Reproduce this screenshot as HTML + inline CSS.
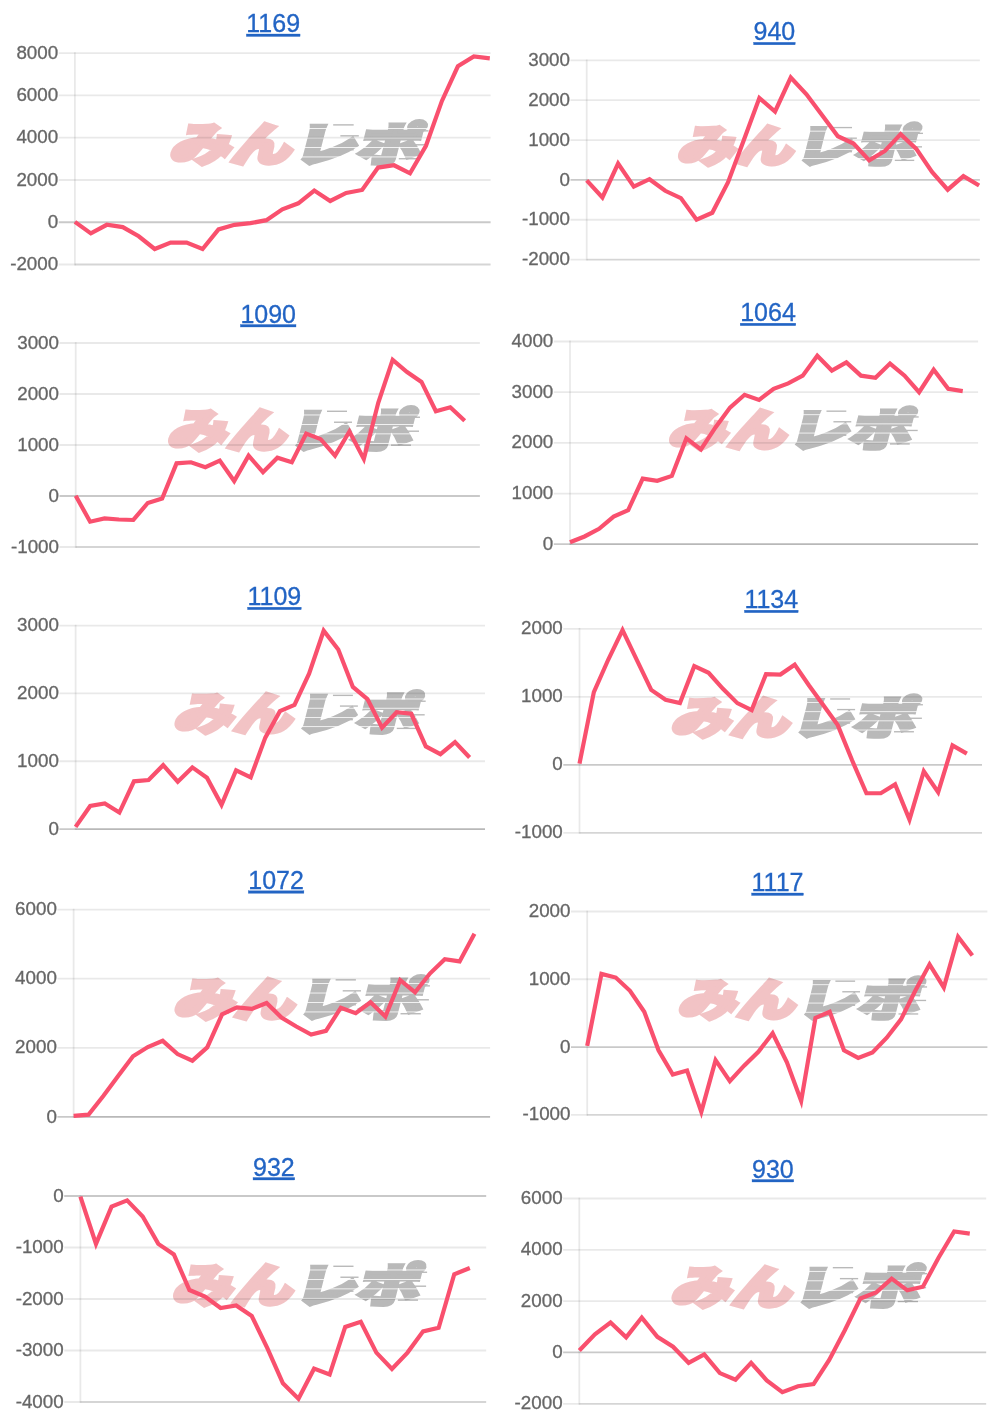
<!DOCTYPE html>
<html lang="ja"><head><meta charset="utf-8"><title>charts</title>
<style>
html,body{margin:0;padding:0;background:#fff;}
body{width:1000px;height:1426px;overflow:hidden;position:relative;}
svg{position:absolute;left:0;top:0;display:block;will-change:transform;}
.lbl{font-family:"Liberation Sans",Arial,sans-serif;font-size:18.8px;fill:#666;stroke:#666;stroke-width:0.3px;}
.ttl{font-family:"Liberation Sans",Arial,sans-serif;font-size:25px;fill:#2264c4;stroke:#2264c4;stroke-width:0.3px;text-decoration:underline;text-underline-offset:0.15em;text-decoration-thickness:2px;}
.wm{font-family:"Liberation Sans","Noto Sans CJK JP",sans-serif;font-weight:900;}
</style></head><body>
<svg width="1000" height="1426" viewBox="0 0 1000 1426">
<g>
<g transform="translate(171.2,121.2) scale(1.0252,0.9956)"><g style="font-family:'Liberation Sans','Noto Sans CJK JP',sans-serif;font-weight:900"> <g transform="skewX(-14)"> <text x="7.5" y="39.8" font-size="46" fill="#f2c3c5" stroke="#f2c3c5" stroke-width="4" stroke-linejoin="miter" textLength="119" lengthAdjust="spacingAndGlyphs">みん</text> <text x="127.7" y="39.8" font-size="46" fill="#b9b9b9" stroke="#b9b9b9" stroke-width="4" stroke-linejoin="miter" textLength="124" lengthAdjust="spacingAndGlyphs">レポ</text> </g> <g fill="#fff"><rect x="124" y="7" width="130" height="0.8"/><rect x="124" y="16.5" width="130" height="0.8"/><rect x="124" y="26" width="130" height="0.8"/><rect x="124" y="35.5" width="130" height="0.8"/></g> <g fill="#b9b9b9"><rect x="158" y="3" width="20" height="1.4"/><rect x="165" y="14" width="18" height="1.4"/><rect x="162" y="28" width="16" height="1.4"/><rect x="233" y="9" width="18" height="1.4"/><rect x="236" y="23" width="14" height="1.4"/><rect x="222" y="37" width="20" height="1.4"/></g></g></g>
<line x1="58.7" y1="53.2" x2="490.6" y2="53.2" stroke="rgba(0,0,0,0.085)" stroke-width="1.8"/>
<line x1="58.7" y1="95.46" x2="490.6" y2="95.46" stroke="rgba(0,0,0,0.085)" stroke-width="1.8"/>
<line x1="58.7" y1="137.72" x2="490.6" y2="137.72" stroke="rgba(0,0,0,0.085)" stroke-width="1.8"/>
<line x1="58.7" y1="179.98" x2="490.6" y2="179.98" stroke="rgba(0,0,0,0.085)" stroke-width="1.8"/>
<line x1="58.7" y1="222.24" x2="490.6" y2="222.24" stroke="rgba(0,0,0,0.21)" stroke-width="1.8"/>
<line x1="58.7" y1="264.5" x2="490.6" y2="264.5" stroke="rgba(0,0,0,0.085)" stroke-width="1.8"/>
<line x1="74.9" y1="264.5" x2="490.6" y2="264.5" stroke="rgba(0,0,0,0.085)" stroke-width="1.8"/>
<line x1="74.9" y1="52.3" x2="74.9" y2="265.4" stroke="rgba(0,0,0,0.085)" stroke-width="1.8"/>
<text class="lbl" x="58.2" y="58.8" text-anchor="end">8000</text>
<text class="lbl" x="58.2" y="101.06" text-anchor="end">6000</text>
<text class="lbl" x="58.2" y="143.32" text-anchor="end">4000</text>
<text class="lbl" x="58.2" y="185.58" text-anchor="end">2000</text>
<text class="lbl" x="58.2" y="227.84" text-anchor="end">0</text>
<text class="lbl" x="58.2" y="270.1" text-anchor="end">-2000</text>
<polyline points="74.9,221.88 90.86,233.39 106.82,224.79 122.77,227.08 138.73,236.28 154.69,248.99 170.65,242.59 186.6,242.59 202.56,248.99 218.52,229.39 234.48,224.79 250.43,223.18 266.39,220.18 282.35,209.37 298.31,203.28 314.27,190.57 330.22,200.97 346.18,192.97 362.14,189.96 378.1,167.55 394.05,165.26 410.01,173.35 425.97,145.74 441.93,100.92 457.88,66.31 473.84,56.5 489.8,58.3" fill="none" stroke="#f9506e" stroke-width="4.2" stroke-linejoin="miter" stroke-linecap="butt"/>
<a href="#"><text class="ttl" x="273.2" y="32" text-anchor="middle">1169</text></a>
</g>
<g>
<g transform="translate(679,124) scale(0.9720,0.9644)"><g style="font-family:'Liberation Sans','Noto Sans CJK JP',sans-serif;font-weight:900"> <g transform="skewX(-14)"> <text x="7.5" y="39.8" font-size="46" fill="#f2c3c5" stroke="#f2c3c5" stroke-width="4" stroke-linejoin="miter" textLength="119" lengthAdjust="spacingAndGlyphs">みん</text> <text x="127.7" y="39.8" font-size="46" fill="#b9b9b9" stroke="#b9b9b9" stroke-width="4" stroke-linejoin="miter" textLength="124" lengthAdjust="spacingAndGlyphs">レポ</text> </g> <g fill="#fff"><rect x="124" y="7" width="130" height="0.8"/><rect x="124" y="16.5" width="130" height="0.8"/><rect x="124" y="26" width="130" height="0.8"/><rect x="124" y="35.5" width="130" height="0.8"/></g> <g fill="#b9b9b9"><rect x="158" y="3" width="20" height="1.4"/><rect x="165" y="14" width="18" height="1.4"/><rect x="162" y="28" width="16" height="1.4"/><rect x="233" y="9" width="18" height="1.4"/><rect x="236" y="23" width="14" height="1.4"/><rect x="222" y="37" width="20" height="1.4"/></g></g></g>
<line x1="570.5" y1="60.36" x2="979.9" y2="60.36" stroke="rgba(0,0,0,0.085)" stroke-width="1.8"/>
<line x1="570.5" y1="100.21" x2="979.9" y2="100.21" stroke="rgba(0,0,0,0.085)" stroke-width="1.8"/>
<line x1="570.5" y1="140.06" x2="979.9" y2="140.06" stroke="rgba(0,0,0,0.085)" stroke-width="1.8"/>
<line x1="570.5" y1="179.9" x2="979.9" y2="179.9" stroke="rgba(0,0,0,0.21)" stroke-width="1.8"/>
<line x1="570.5" y1="219.75" x2="979.9" y2="219.75" stroke="rgba(0,0,0,0.085)" stroke-width="1.8"/>
<line x1="570.5" y1="259.6" x2="979.9" y2="259.6" stroke="rgba(0,0,0,0.085)" stroke-width="1.8"/>
<line x1="586.7" y1="259.6" x2="979.9" y2="259.6" stroke="rgba(0,0,0,0.085)" stroke-width="1.8"/>
<line x1="586.7" y1="59.46" x2="586.7" y2="260.5" stroke="rgba(0,0,0,0.085)" stroke-width="1.8"/>
<text class="lbl" x="570" y="65.96" text-anchor="end">3000</text>
<text class="lbl" x="570" y="105.81" text-anchor="end">2000</text>
<text class="lbl" x="570" y="145.66" text-anchor="end">1000</text>
<text class="lbl" x="570" y="185.5" text-anchor="end">0</text>
<text class="lbl" x="570" y="225.35" text-anchor="end">-1000</text>
<text class="lbl" x="570" y="265.2" text-anchor="end">-2000</text>
<polyline points="586.7,180.3 602.4,197.48 618.09,163.53 633.79,186.6 649.48,179.2 665.18,190.79 680.88,198.08 696.57,219.75 712.27,212.76 727.96,182.4 743.66,140.46 759.36,98.11 775.05,111.49 790.75,77.54 806.44,94.31 822.14,115.29 837.84,136.26 853.53,143.55 869.23,160.33 884.92,150.94 900.62,134.16 916.32,148.85 932.01,171.91 947.71,189.7 963.4,176.11 979.1,185.5" fill="none" stroke="#f9506e" stroke-width="4.2" stroke-linejoin="miter" stroke-linecap="butt"/>
<a href="#"><text class="ttl" x="774.4" y="40.3" text-anchor="middle">940</text></a>
</g>
<g>
<g transform="translate(169,407.6) scale(1.0000,0.9956)"><g style="font-family:'Liberation Sans','Noto Sans CJK JP',sans-serif;font-weight:900"> <g transform="skewX(-14)"> <text x="7.5" y="39.8" font-size="46" fill="#f2c3c5" stroke="#f2c3c5" stroke-width="4" stroke-linejoin="miter" textLength="119" lengthAdjust="spacingAndGlyphs">みん</text> <text x="127.7" y="39.8" font-size="46" fill="#b9b9b9" stroke="#b9b9b9" stroke-width="4" stroke-linejoin="miter" textLength="124" lengthAdjust="spacingAndGlyphs">レポ</text> </g> <g fill="#fff"><rect x="124" y="7" width="130" height="0.8"/><rect x="124" y="16.5" width="130" height="0.8"/><rect x="124" y="26" width="130" height="0.8"/><rect x="124" y="35.5" width="130" height="0.8"/></g> <g fill="#b9b9b9"><rect x="158" y="3" width="20" height="1.4"/><rect x="165" y="14" width="18" height="1.4"/><rect x="162" y="28" width="16" height="1.4"/><rect x="233" y="9" width="18" height="1.4"/><rect x="236" y="23" width="14" height="1.4"/><rect x="222" y="37" width="20" height="1.4"/></g></g></g>
<line x1="59.5" y1="343" x2="479.9" y2="343" stroke="rgba(0,0,0,0.085)" stroke-width="1.8"/>
<line x1="59.5" y1="394" x2="479.9" y2="394" stroke="rgba(0,0,0,0.085)" stroke-width="1.8"/>
<line x1="59.5" y1="445" x2="479.9" y2="445" stroke="rgba(0,0,0,0.085)" stroke-width="1.8"/>
<line x1="59.5" y1="496" x2="479.9" y2="496" stroke="rgba(0,0,0,0.21)" stroke-width="1.8"/>
<line x1="59.5" y1="547" x2="479.9" y2="547" stroke="rgba(0,0,0,0.085)" stroke-width="1.8"/>
<line x1="75.7" y1="547" x2="479.9" y2="547" stroke="rgba(0,0,0,0.085)" stroke-width="1.8"/>
<line x1="75.7" y1="342.1" x2="75.7" y2="547.9" stroke="rgba(0,0,0,0.085)" stroke-width="1.8"/>
<text class="lbl" x="59" y="348.6" text-anchor="end">3000</text>
<text class="lbl" x="59" y="399.6" text-anchor="end">2000</text>
<text class="lbl" x="59" y="450.6" text-anchor="end">1000</text>
<text class="lbl" x="59" y="501.6" text-anchor="end">0</text>
<text class="lbl" x="59" y="552.6" text-anchor="end">-1000</text>
<polyline points="75.7,495.77 90.11,521.69 104.51,518.39 118.92,519.48 133.33,519.98 147.74,502.98 162.14,498.57 176.55,463.35 190.96,462.26 205.36,467.16 219.77,460.56 234.18,480.97 248.59,455.66 262.99,472.17 277.4,457.66 291.81,462.26 306.21,433.64 320.62,439.15 335.03,455.66 349.44,431.45 363.84,458.95 378.25,402.83 392.66,359.91 407.06,372.01 421.47,381.92 435.88,411.24 450.29,407.23 464.69,420.84" fill="none" stroke="#f9506e" stroke-width="4.2" stroke-linejoin="miter" stroke-linecap="butt"/>
<a href="#"><text class="ttl" x="268.2" y="322.5" text-anchor="middle">1090</text></a>
</g>
<g>
<g transform="translate(669.8,407.6) scale(0.9916,0.9644)"><g style="font-family:'Liberation Sans','Noto Sans CJK JP',sans-serif;font-weight:900"> <g transform="skewX(-14)"> <text x="7.5" y="39.8" font-size="46" fill="#f2c3c5" stroke="#f2c3c5" stroke-width="4" stroke-linejoin="miter" textLength="119" lengthAdjust="spacingAndGlyphs">みん</text> <text x="127.7" y="39.8" font-size="46" fill="#b9b9b9" stroke="#b9b9b9" stroke-width="4" stroke-linejoin="miter" textLength="124" lengthAdjust="spacingAndGlyphs">レポ</text> </g> <g fill="#fff"><rect x="124" y="7" width="130" height="0.8"/><rect x="124" y="16.5" width="130" height="0.8"/><rect x="124" y="26" width="130" height="0.8"/><rect x="124" y="35.5" width="130" height="0.8"/></g> <g fill="#b9b9b9"><rect x="158" y="3" width="20" height="1.4"/><rect x="165" y="14" width="18" height="1.4"/><rect x="162" y="28" width="16" height="1.4"/><rect x="233" y="9" width="18" height="1.4"/><rect x="236" y="23" width="14" height="1.4"/><rect x="222" y="37" width="20" height="1.4"/></g></g></g>
<line x1="553.8" y1="341.5" x2="978.1" y2="341.5" stroke="rgba(0,0,0,0.085)" stroke-width="1.8"/>
<line x1="553.8" y1="392.18" x2="978.1" y2="392.18" stroke="rgba(0,0,0,0.085)" stroke-width="1.8"/>
<line x1="553.8" y1="442.85" x2="978.1" y2="442.85" stroke="rgba(0,0,0,0.085)" stroke-width="1.8"/>
<line x1="553.8" y1="493.53" x2="978.1" y2="493.53" stroke="rgba(0,0,0,0.085)" stroke-width="1.8"/>
<line x1="553.8" y1="544.2" x2="978.1" y2="544.2" stroke="rgba(0,0,0,0.21)" stroke-width="1.8"/>
<line x1="570" y1="544.2" x2="978.1" y2="544.2" stroke="rgba(0,0,0,0.085)" stroke-width="1.8"/>
<line x1="570" y1="340.6" x2="570" y2="545.1" stroke="rgba(0,0,0,0.085)" stroke-width="1.8"/>
<text class="lbl" x="553.3" y="347.1" text-anchor="end">4000</text>
<text class="lbl" x="553.3" y="397.78" text-anchor="end">3000</text>
<text class="lbl" x="553.3" y="448.45" text-anchor="end">2000</text>
<text class="lbl" x="553.3" y="499.13" text-anchor="end">1000</text>
<text class="lbl" x="553.3" y="549.8" text-anchor="end">0</text>
<polyline points="570,542.3 584.55,536.48 599.09,528.78 613.64,516.66 628.19,510.05 642.73,478.6 657.28,480.8 671.83,475.9 686.37,438.44 700.92,449.46 715.46,427.43 730.01,407.6 744.56,394.78 759.1,399.89 773.65,388.87 788.2,383.36 802.74,375.65 817.29,355.82 831.84,370.55 846.38,362.43 860.93,375.65 875.48,377.85 890.02,363.53 904.57,375.65 919.11,392.18 933.66,369.75 948.21,388.87 962.75,391.08" fill="none" stroke="#f9506e" stroke-width="4.2" stroke-linejoin="miter" stroke-linecap="butt"/>
<a href="#"><text class="ttl" x="768" y="321.2" text-anchor="middle">1064</text></a>
</g>
<g>
<g transform="translate(175.4,691.8) scale(0.9972,0.9711)"><g style="font-family:'Liberation Sans','Noto Sans CJK JP',sans-serif;font-weight:900"> <g transform="skewX(-14)"> <text x="7.5" y="39.8" font-size="46" fill="#f2c3c5" stroke="#f2c3c5" stroke-width="4" stroke-linejoin="miter" textLength="119" lengthAdjust="spacingAndGlyphs">みん</text> <text x="127.7" y="39.8" font-size="46" fill="#b9b9b9" stroke="#b9b9b9" stroke-width="4" stroke-linejoin="miter" textLength="124" lengthAdjust="spacingAndGlyphs">レポ</text> </g> <g fill="#fff"><rect x="124" y="7" width="130" height="0.8"/><rect x="124" y="16.5" width="130" height="0.8"/><rect x="124" y="26" width="130" height="0.8"/><rect x="124" y="35.5" width="130" height="0.8"/></g> <g fill="#b9b9b9"><rect x="158" y="3" width="20" height="1.4"/><rect x="165" y="14" width="18" height="1.4"/><rect x="162" y="28" width="16" height="1.4"/><rect x="233" y="9" width="18" height="1.4"/><rect x="236" y="23" width="14" height="1.4"/><rect x="222" y="37" width="20" height="1.4"/></g></g></g>
<line x1="59.4" y1="625.6" x2="485" y2="625.6" stroke="rgba(0,0,0,0.085)" stroke-width="1.8"/>
<line x1="59.4" y1="693.43" x2="485" y2="693.43" stroke="rgba(0,0,0,0.085)" stroke-width="1.8"/>
<line x1="59.4" y1="761.27" x2="485" y2="761.27" stroke="rgba(0,0,0,0.085)" stroke-width="1.8"/>
<line x1="59.4" y1="829.1" x2="485" y2="829.1" stroke="rgba(0,0,0,0.21)" stroke-width="1.8"/>
<line x1="75.6" y1="829.1" x2="485" y2="829.1" stroke="rgba(0,0,0,0.085)" stroke-width="1.8"/>
<line x1="75.6" y1="624.7" x2="75.6" y2="830" stroke="rgba(0,0,0,0.085)" stroke-width="1.8"/>
<text class="lbl" x="58.9" y="631.2" text-anchor="end">3000</text>
<text class="lbl" x="58.9" y="699.03" text-anchor="end">2000</text>
<text class="lbl" x="58.9" y="766.87" text-anchor="end">1000</text>
<text class="lbl" x="58.9" y="834.7" text-anchor="end">0</text>
<polyline points="75.6,826.9 90.19,805.95 104.79,803.35 119.38,812.57 133.97,781.31 148.56,780 163.16,765.17 177.75,781.71 192.34,767.38 206.94,777.8 221.53,804.85 236.12,770.28 250.71,777.3 265.31,737.62 279.9,711.17 294.49,704.96 309.09,673.69 323.68,630.71 338.27,649.45 352.86,686.92 367.46,699.04 382.05,727.7 396.64,712.27 411.24,713.77 425.83,746.44 440.42,754.15 455.01,742.03 469.61,757.46" fill="none" stroke="#f9506e" stroke-width="4.2" stroke-linejoin="miter" stroke-linecap="butt"/>
<a href="#"><text class="ttl" x="274.4" y="605.2" text-anchor="middle">1109</text></a>
</g>
<g>
<g transform="translate(672.6,695.4) scale(0.9972,0.9644)"><g style="font-family:'Liberation Sans','Noto Sans CJK JP',sans-serif;font-weight:900"> <g transform="skewX(-14)"> <text x="7.5" y="39.8" font-size="46" fill="#f2c3c5" stroke="#f2c3c5" stroke-width="4" stroke-linejoin="miter" textLength="119" lengthAdjust="spacingAndGlyphs">みん</text> <text x="127.7" y="39.8" font-size="46" fill="#b9b9b9" stroke="#b9b9b9" stroke-width="4" stroke-linejoin="miter" textLength="124" lengthAdjust="spacingAndGlyphs">レポ</text> </g> <g fill="#fff"><rect x="124" y="7" width="130" height="0.8"/><rect x="124" y="16.5" width="130" height="0.8"/><rect x="124" y="26" width="130" height="0.8"/><rect x="124" y="35.5" width="130" height="0.8"/></g> <g fill="#b9b9b9"><rect x="158" y="3" width="20" height="1.4"/><rect x="165" y="14" width="18" height="1.4"/><rect x="162" y="28" width="16" height="1.4"/><rect x="233" y="9" width="18" height="1.4"/><rect x="236" y="23" width="14" height="1.4"/><rect x="222" y="37" width="20" height="1.4"/></g></g></g>
<line x1="563.3" y1="628.8" x2="982" y2="628.8" stroke="rgba(0,0,0,0.085)" stroke-width="1.8"/>
<line x1="563.3" y1="696.8" x2="982" y2="696.8" stroke="rgba(0,0,0,0.085)" stroke-width="1.8"/>
<line x1="563.3" y1="764.8" x2="982" y2="764.8" stroke="rgba(0,0,0,0.21)" stroke-width="1.8"/>
<line x1="563.3" y1="832.8" x2="982" y2="832.8" stroke="rgba(0,0,0,0.085)" stroke-width="1.8"/>
<line x1="579.5" y1="832.8" x2="982" y2="832.8" stroke="rgba(0,0,0,0.085)" stroke-width="1.8"/>
<line x1="579.5" y1="627.9" x2="579.5" y2="833.7" stroke="rgba(0,0,0,0.085)" stroke-width="1.8"/>
<text class="lbl" x="562.8" y="634.4" text-anchor="end">2000</text>
<text class="lbl" x="562.8" y="702.4" text-anchor="end">1000</text>
<text class="lbl" x="562.8" y="770.4" text-anchor="end">0</text>
<text class="lbl" x="562.8" y="838.4" text-anchor="end">-1000</text>
<polyline points="579.5,763.56 593.85,692.14 608.19,659.76 622.54,630.2 636.89,660.16 651.23,689.94 665.58,699.84 679.92,703.12 694.27,666.16 708.62,672.76 722.96,688.84 737.31,703.12 751.66,710.12 766,674.16 780.35,674.56 794.7,664.66 809.04,685.54 823.39,705.32 837.74,725.1 852.08,760.28 866.43,793.24 880.78,793.24 895.12,784.44 909.47,819.62 923.81,771.26 938.16,792.14 952.51,745.38 966.85,753.68" fill="none" stroke="#f9506e" stroke-width="4.2" stroke-linejoin="miter" stroke-linecap="butt"/>
<a href="#"><text class="ttl" x="771.3" y="608.2" text-anchor="middle">1134</text></a>
</g>
<g>
<g transform="translate(175.4,976.2) scale(1.0140,0.9956)"><g style="font-family:'Liberation Sans','Noto Sans CJK JP',sans-serif;font-weight:900"> <g transform="skewX(-14)"> <text x="7.5" y="39.8" font-size="46" fill="#f2c3c5" stroke="#f2c3c5" stroke-width="4" stroke-linejoin="miter" textLength="119" lengthAdjust="spacingAndGlyphs">みん</text> <text x="127.7" y="39.8" font-size="46" fill="#b9b9b9" stroke="#b9b9b9" stroke-width="4" stroke-linejoin="miter" textLength="124" lengthAdjust="spacingAndGlyphs">レポ</text> </g> <g fill="#fff"><rect x="124" y="7" width="130" height="0.8"/><rect x="124" y="16.5" width="130" height="0.8"/><rect x="124" y="26" width="130" height="0.8"/><rect x="124" y="35.5" width="130" height="0.8"/></g> <g fill="#b9b9b9"><rect x="158" y="3" width="20" height="1.4"/><rect x="165" y="14" width="18" height="1.4"/><rect x="162" y="28" width="16" height="1.4"/><rect x="233" y="9" width="18" height="1.4"/><rect x="236" y="23" width="14" height="1.4"/><rect x="222" y="37" width="20" height="1.4"/></g></g></g>
<line x1="57.4" y1="909.6" x2="490.1" y2="909.6" stroke="rgba(0,0,0,0.085)" stroke-width="1.8"/>
<line x1="57.4" y1="978.7" x2="490.1" y2="978.7" stroke="rgba(0,0,0,0.085)" stroke-width="1.8"/>
<line x1="57.4" y1="1047.8" x2="490.1" y2="1047.8" stroke="rgba(0,0,0,0.085)" stroke-width="1.8"/>
<line x1="57.4" y1="1116.9" x2="490.1" y2="1116.9" stroke="rgba(0,0,0,0.21)" stroke-width="1.8"/>
<line x1="73.6" y1="1116.9" x2="490.1" y2="1116.9" stroke="rgba(0,0,0,0.085)" stroke-width="1.8"/>
<line x1="73.6" y1="908.7" x2="73.6" y2="1117.8" stroke="rgba(0,0,0,0.085)" stroke-width="1.8"/>
<text class="lbl" x="56.9" y="915.2" text-anchor="end">6000</text>
<text class="lbl" x="56.9" y="984.3" text-anchor="end">4000</text>
<text class="lbl" x="56.9" y="1053.4" text-anchor="end">2000</text>
<text class="lbl" x="56.9" y="1122.5" text-anchor="end">0</text>
<polyline points="73.6,1115.8 88.45,1114.7 103.29,1095.95 118.14,1076.1 132.99,1056.25 147.83,1047.03 162.68,1040.82 177.53,1054.05 192.37,1060.67 207.22,1047.43 222.06,1014.35 236.91,1007.33 251.76,1008.84 266.6,1002.93 281.45,1017.56 296.3,1026.48 311.14,1034.6 325.99,1030.9 340.84,1007.73 355.68,1013.25 370.53,1002.22 385.38,1016.55 400.22,980.17 415.07,992.3 429.91,973.55 444.76,959.22 459.61,961.43 474.45,933.86" fill="none" stroke="#f9506e" stroke-width="4.2" stroke-linejoin="miter" stroke-linecap="butt"/>
<a href="#"><text class="ttl" x="276.1" y="888.8" text-anchor="middle">1072</text></a>
</g>
<g>
<g transform="translate(679.6,977.6) scale(0.9860,0.9644)"><g style="font-family:'Liberation Sans','Noto Sans CJK JP',sans-serif;font-weight:900"> <g transform="skewX(-14)"> <text x="7.5" y="39.8" font-size="46" fill="#f2c3c5" stroke="#f2c3c5" stroke-width="4" stroke-linejoin="miter" textLength="119" lengthAdjust="spacingAndGlyphs">みん</text> <text x="127.7" y="39.8" font-size="46" fill="#b9b9b9" stroke="#b9b9b9" stroke-width="4" stroke-linejoin="miter" textLength="124" lengthAdjust="spacingAndGlyphs">レポ</text> </g> <g fill="#fff"><rect x="124" y="7" width="130" height="0.8"/><rect x="124" y="16.5" width="130" height="0.8"/><rect x="124" y="26" width="130" height="0.8"/><rect x="124" y="35.5" width="130" height="0.8"/></g> <g fill="#b9b9b9"><rect x="158" y="3" width="20" height="1.4"/><rect x="165" y="14" width="18" height="1.4"/><rect x="162" y="28" width="16" height="1.4"/><rect x="233" y="9" width="18" height="1.4"/><rect x="236" y="23" width="14" height="1.4"/><rect x="222" y="37" width="20" height="1.4"/></g></g></g>
<line x1="571" y1="911.5" x2="987.4" y2="911.5" stroke="rgba(0,0,0,0.085)" stroke-width="1.8"/>
<line x1="571" y1="979.27" x2="987.4" y2="979.27" stroke="rgba(0,0,0,0.085)" stroke-width="1.8"/>
<line x1="571" y1="1047.03" x2="987.4" y2="1047.03" stroke="rgba(0,0,0,0.21)" stroke-width="1.8"/>
<line x1="571" y1="1114.8" x2="987.4" y2="1114.8" stroke="rgba(0,0,0,0.085)" stroke-width="1.8"/>
<line x1="587.2" y1="1114.8" x2="987.4" y2="1114.8" stroke="rgba(0,0,0,0.085)" stroke-width="1.8"/>
<line x1="587.2" y1="910.6" x2="587.2" y2="1115.7" stroke="rgba(0,0,0,0.085)" stroke-width="1.8"/>
<text class="lbl" x="570.5" y="917.1" text-anchor="end">2000</text>
<text class="lbl" x="570.5" y="984.87" text-anchor="end">1000</text>
<text class="lbl" x="570.5" y="1052.63" text-anchor="end">0</text>
<text class="lbl" x="570.5" y="1120.4" text-anchor="end">-1000</text>
<polyline points="587.2,1045.83 601.46,973.86 615.73,977.57 629.99,990.78 644.26,1011.7 658.52,1050.23 672.79,1074.46 687.05,1070.55 701.31,1111.9 715.58,1060.15 729.84,1081.07 744.11,1065.65 758.37,1051.84 772.64,1033.32 786.9,1062.35 801.16,1100.89 815.43,1017.91 829.69,1011.7 843.96,1050.23 858.22,1057.95 872.49,1052.44 886.75,1037.73 901.01,1019.41 915.28,990.78 929.54,964.35 943.81,987.47 958.07,936.83 972.34,955.54" fill="none" stroke="#f9506e" stroke-width="4.2" stroke-linejoin="miter" stroke-linecap="butt"/>
<a href="#"><text class="ttl" x="777.5" y="891" text-anchor="middle">1117</text></a>
</g>
<g>
<g transform="translate(174,1262.6) scale(1.0084,0.9956)"><g style="font-family:'Liberation Sans','Noto Sans CJK JP',sans-serif;font-weight:900"> <g transform="skewX(-14)"> <text x="7.5" y="39.8" font-size="46" fill="#f2c3c5" stroke="#f2c3c5" stroke-width="4" stroke-linejoin="miter" textLength="119" lengthAdjust="spacingAndGlyphs">みん</text> <text x="127.7" y="39.8" font-size="46" fill="#b9b9b9" stroke="#b9b9b9" stroke-width="4" stroke-linejoin="miter" textLength="124" lengthAdjust="spacingAndGlyphs">レポ</text> </g> <g fill="#fff"><rect x="124" y="7" width="130" height="0.8"/><rect x="124" y="16.5" width="130" height="0.8"/><rect x="124" y="26" width="130" height="0.8"/><rect x="124" y="35.5" width="130" height="0.8"/></g> <g fill="#b9b9b9"><rect x="158" y="3" width="20" height="1.4"/><rect x="165" y="14" width="18" height="1.4"/><rect x="162" y="28" width="16" height="1.4"/><rect x="233" y="9" width="18" height="1.4"/><rect x="236" y="23" width="14" height="1.4"/><rect x="222" y="37" width="20" height="1.4"/></g></g></g>
<line x1="64.2" y1="1196" x2="486.2" y2="1196" stroke="rgba(0,0,0,0.21)" stroke-width="1.8"/>
<line x1="64.2" y1="1247.5" x2="486.2" y2="1247.5" stroke="rgba(0,0,0,0.085)" stroke-width="1.8"/>
<line x1="64.2" y1="1299" x2="486.2" y2="1299" stroke="rgba(0,0,0,0.085)" stroke-width="1.8"/>
<line x1="64.2" y1="1350.5" x2="486.2" y2="1350.5" stroke="rgba(0,0,0,0.085)" stroke-width="1.8"/>
<line x1="64.2" y1="1402" x2="486.2" y2="1402" stroke="rgba(0,0,0,0.085)" stroke-width="1.8"/>
<line x1="80.4" y1="1402" x2="486.2" y2="1402" stroke="rgba(0,0,0,0.085)" stroke-width="1.8"/>
<line x1="80.4" y1="1195.1" x2="80.4" y2="1402.9" stroke="rgba(0,0,0,0.085)" stroke-width="1.8"/>
<text class="lbl" x="63.7" y="1201.6" text-anchor="end">0</text>
<text class="lbl" x="63.7" y="1253.1" text-anchor="end">-1000</text>
<text class="lbl" x="63.7" y="1304.6" text-anchor="end">-2000</text>
<text class="lbl" x="63.7" y="1356.1" text-anchor="end">-3000</text>
<text class="lbl" x="63.7" y="1407.6" text-anchor="end">-4000</text>
<polyline points="80.4,1196.7 95.98,1243.91 111.55,1206.58 127.13,1200.39 142.71,1216.46 158.28,1243.91 173.86,1254.49 189.44,1290.02 205.02,1296.6 220.59,1307.98 236.17,1305.39 251.75,1315.97 267.32,1348.2 282.9,1383.34 298.48,1398.71 314.05,1368.66 329.63,1374.55 345.21,1326.95 360.78,1321.86 376.36,1352.6 391.94,1369.06 407.52,1352.6 423.09,1331.34 438.67,1327.84 454.25,1274.25 469.82,1268.06" fill="none" stroke="#f9506e" stroke-width="4.2" stroke-linejoin="miter" stroke-linecap="butt"/>
<a href="#"><text class="ttl" x="273.9" y="1175.5" text-anchor="middle">932</text></a>
</g>
<g>
<g transform="translate(672.6,1264) scale(1.0140,0.9956)"><g style="font-family:'Liberation Sans','Noto Sans CJK JP',sans-serif;font-weight:900"> <g transform="skewX(-14)"> <text x="7.5" y="39.8" font-size="46" fill="#f2c3c5" stroke="#f2c3c5" stroke-width="4" stroke-linejoin="miter" textLength="119" lengthAdjust="spacingAndGlyphs">みん</text> <text x="127.7" y="39.8" font-size="46" fill="#b9b9b9" stroke="#b9b9b9" stroke-width="4" stroke-linejoin="miter" textLength="124" lengthAdjust="spacingAndGlyphs">レポ</text> </g> <g fill="#fff"><rect x="124" y="7" width="130" height="0.8"/><rect x="124" y="16.5" width="130" height="0.8"/><rect x="124" y="26" width="130" height="0.8"/><rect x="124" y="35.5" width="130" height="0.8"/></g> <g fill="#b9b9b9"><rect x="158" y="3" width="20" height="1.4"/><rect x="165" y="14" width="18" height="1.4"/><rect x="162" y="28" width="16" height="1.4"/><rect x="233" y="9" width="18" height="1.4"/><rect x="236" y="23" width="14" height="1.4"/><rect x="222" y="37" width="20" height="1.4"/></g></g></g>
<line x1="563.1" y1="1198.5" x2="986.2" y2="1198.5" stroke="rgba(0,0,0,0.085)" stroke-width="1.8"/>
<line x1="563.1" y1="1249.83" x2="986.2" y2="1249.83" stroke="rgba(0,0,0,0.085)" stroke-width="1.8"/>
<line x1="563.1" y1="1301.15" x2="986.2" y2="1301.15" stroke="rgba(0,0,0,0.085)" stroke-width="1.8"/>
<line x1="563.1" y1="1352.47" x2="986.2" y2="1352.47" stroke="rgba(0,0,0,0.21)" stroke-width="1.8"/>
<line x1="563.1" y1="1403.8" x2="986.2" y2="1403.8" stroke="rgba(0,0,0,0.085)" stroke-width="1.8"/>
<line x1="579.3" y1="1403.8" x2="986.2" y2="1403.8" stroke="rgba(0,0,0,0.085)" stroke-width="1.8"/>
<line x1="579.3" y1="1197.6" x2="579.3" y2="1404.7" stroke="rgba(0,0,0,0.085)" stroke-width="1.8"/>
<text class="lbl" x="562.6" y="1204.1" text-anchor="end">6000</text>
<text class="lbl" x="562.6" y="1255.43" text-anchor="end">4000</text>
<text class="lbl" x="562.6" y="1306.75" text-anchor="end">2000</text>
<text class="lbl" x="562.6" y="1358.07" text-anchor="end">0</text>
<text class="lbl" x="562.6" y="1409.4" text-anchor="end">-2000</text>
<polyline points="579.3,1350.51 594.92,1334.23 610.54,1322.56 626.16,1337.33 641.78,1317.57 657.4,1336.83 673.02,1346.71 688.63,1362.78 704.25,1354.39 719.87,1373.06 735.49,1379.65 751.11,1362.78 766.73,1380.35 782.35,1392.22 797.97,1386.23 813.59,1384.04 829.21,1359.89 844.83,1330.24 860.45,1298.41 876.07,1292.52 891.68,1278.65 907.3,1290.32 922.92,1286.73 938.54,1257.79 954.16,1231.43 969.78,1233.63" fill="none" stroke="#f9506e" stroke-width="4.2" stroke-linejoin="miter" stroke-linecap="butt"/>
<a href="#"><text class="ttl" x="772.9" y="1177.5" text-anchor="middle">930</text></a>
</g>
</svg>
</body></html>
